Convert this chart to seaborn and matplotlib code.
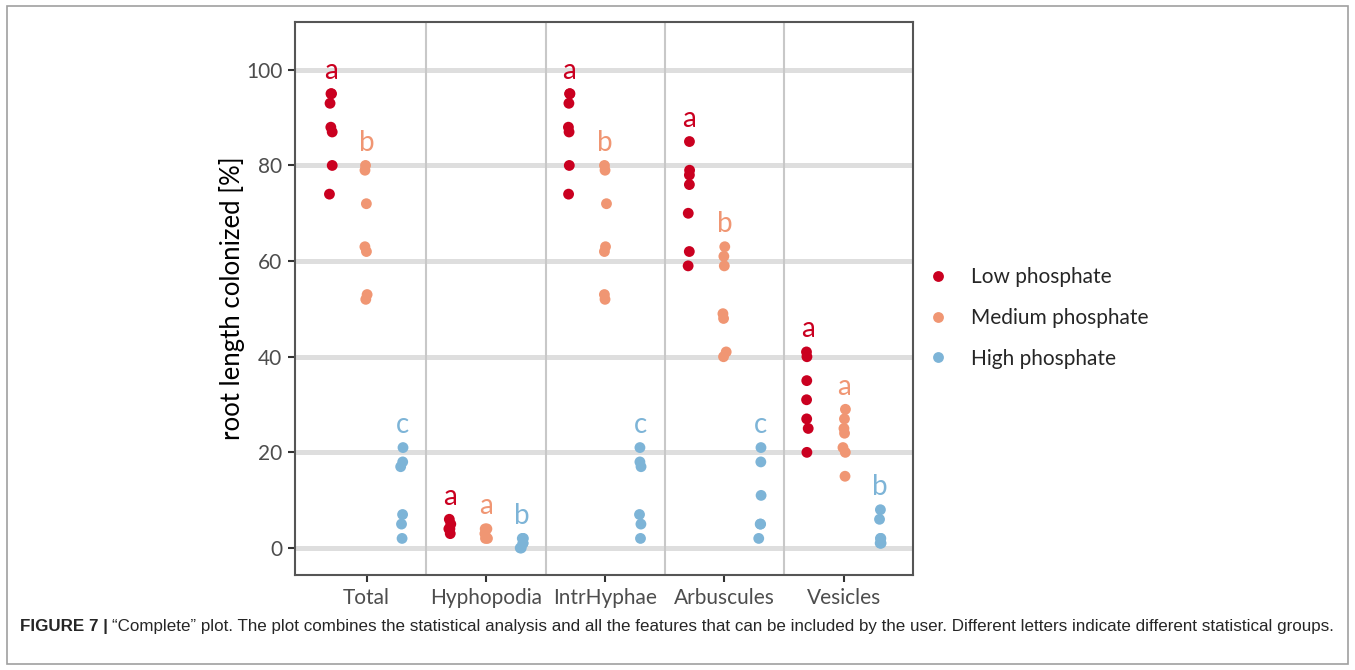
"""Recreate the 'Complete' strip plot of root length colonization."""

import matplotlib.pyplot as plt
import numpy as np
import pandas as pd
import seaborn as sns
from matplotlib.patches import Rectangle

features = ["Total", "Hyphopodia", "IntrHyphae", "Arbuscules", "Vesicles"]
levels = ["Low phosphate", "Medium phosphate", "High phosphate"]
colors = ["#CA0020", "#F09673", "#7DB4D7"]

# values per feature, one list per phosphate level
low_values = [
    [95, 95, 93, 88, 87, 80, 74],
    [6, 5, 4, 4, 3],
    [95, 95, 93, 88, 87, 80, 74],
    [85, 79, 78, 76, 70, 62, 59],
    [41, 40, 35, 31, 27, 25, 20],
]
medium_values = [
    [80, 79, 72, 63, 62, 53, 52],
    [4, 4, 3, 2, 2],
    [80, 79, 72, 63, 62, 53, 52],
    [63, 61, 59, 49, 48, 41, 40],
    [29, 27, 25, 24, 21, 20, 15],
]
high_values = [
    [21, 18, 17, 7, 5, 2],
    [2, 2, 1, 1, 0, 0],
    [21, 18, 17, 7, 5, 2],
    [21, 18, 11, 5, 5, 2],
    [8, 6, 2, 2, 1, 1],
]

# statistical group letters, per feature: low, medium, high
low_letters = ["a", "a", "a", "a", "a"]
medium_letters = ["b", "a", "b", "b", "a"]
high_letters = ["c", "b", "c", "c", "b"]

rows = []
for level, values in zip(levels, [low_values, medium_values, high_values]):
    for feature, vals in zip(features, values):
        for v in vals:
            rows.append({"feature": feature, "level": level, "value": v})
df = pd.DataFrame(rows)

sns.set_theme(style="white")
plt.rcParams["font.family"] = ["Lato", "DejaVu Sans"]

fig = plt.figure(figsize=(13.55, 6.7), dpi=100)
ax = fig.add_axes([295 / 1355, 95 / 670, 618 / 1355, 553 / 670])

for y in range(0, 101, 20):
    ax.axhline(y, color="#DEDEDE", linewidth=3.6, zorder=0)
for x in np.arange(0.5, len(features) - 1, 1.0):
    ax.axvline(x, color="#C8C8C8", linewidth=1.5, zorder=0)

np.random.seed(3)
sns.stripplot(
    data=df, x="feature", y="value", hue="level",
    order=features, hue_order=levels, palette=colors,
    dodge=True, jitter=0.04, size=7.8, linewidth=0, ax=ax, zorder=3,
)

# widen the dodge a little (ggplot used 0.9 instead of seaborn's 0.8)
for coll in ax.collections:
    offs = coll.get_offsets()
    if len(offs):
        cat = np.round(offs[:, 0])
        offs[:, 0] = cat + (offs[:, 0] - cat) * 1.125
        coll.set_offsets(offs)

dodge = [-0.3, 0.0, 0.3]
for k, (values, letters) in enumerate(zip(
        [low_values, medium_values, high_values],
        [low_letters, medium_letters, high_letters])):
    for i, (vals, letter) in enumerate(zip(values, letters)):
        ax.text(i + dodge[k], max(vals) + 4.7, letter, color=colors[k],
                fontsize=20, ha="center", va="center", zorder=4)

ax.set_xlim(-0.6, 4.58)
ax.set_ylim(-5.65, 110.0)
ax.set_yticks(range(0, 101, 20))
ax.set_xlabel("")
ax.set_ylabel("root length colonized [%]", fontsize=18.5, color="black", labelpad=1)
ax.tick_params(axis="both", length=5, width=1.5, color="#333333",
               labelsize=15, labelcolor="#4D4D4D", pad=4, bottom=True, left=True)
for spine in ax.spines.values():
    spine.set_color("#555555")
    spine.set_linewidth(1.5)

handles, labels = ax.get_legend_handles_labels()
ax.legend(handles, labels, loc="center left", bbox_to_anchor=(0.977, 0.465),
          frameon=False, fontsize=15, labelspacing=1.0, handletextpad=0.55,
          markerscale=1.0)

fig.patches.append(Rectangle((7 / 1355, 6 / 670), 1341 / 1355, 658 / 670,
                             transform=fig.transFigure, fill=False,
                             edgecolor="#A0A0A0", linewidth=1.2))

cap_y = 1 - 627 / 670
cap_font = ["Liberation Sans", "DejaVu Sans"]
bold = fig.text(20 / 1355, cap_y, "FIGURE 7 |", family=cap_font, fontsize=12.25,
                fontweight="bold", va="center", ha="left")
renderer = fig.canvas.get_renderer()
bb = bold.get_window_extent(renderer=renderer)
fig.text((bb.x1 + 4) / 1355, cap_y,
         "\u201cComplete\u201d plot. The plot combines the statistical analysis and all the "
         "features that can be included by the user. Different letters indicate different "
         "statistical groups.",
         family=cap_font, fontsize=12.25, va="center", ha="left")

fig.savefig("out.png", dpi=100)
